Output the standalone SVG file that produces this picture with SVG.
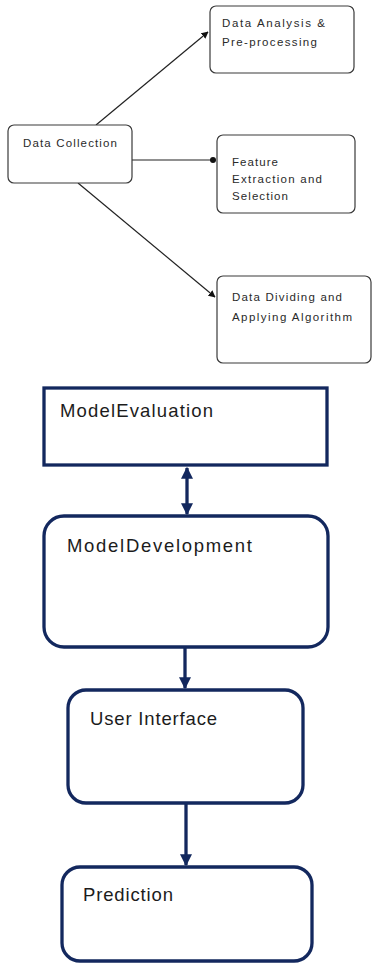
<svg xmlns="http://www.w3.org/2000/svg" width="372" height="965" viewBox="0 0 372 965">
<style>
.tb{fill:#fff;stroke:#3a3a3a;stroke-width:1.2}
.tt{font-family:"Liberation Sans",Arial,sans-serif;font-size:11.5px;fill:#2a2a2a}
.nb{fill:#fff;stroke:#13285e;stroke-width:3.3}
.nt{font-family:"Liberation Sans",Arial,sans-serif;font-size:18.5px;fill:#1c1c1c}
.tl{stroke:#222;stroke-width:1.2;fill:none}
.nl{stroke:#13285e;stroke-width:3.3;fill:none}
</style>
<defs>
<marker id="ah" viewBox="0 0 10 10" refX="9" refY="5" markerWidth="7" markerHeight="7" orient="auto" markerUnits="userSpaceOnUse"><path d="M0,0 L10,5 L0,10 z" fill="#111"/></marker>
<marker id="dot" viewBox="0 0 10 10" refX="5" refY="5" markerWidth="6" markerHeight="6" markerUnits="userSpaceOnUse"><circle cx="5" cy="5" r="5" fill="#111"/></marker>
<marker id="nh" viewBox="0 0 10 10" refX="9" refY="5" markerWidth="12" markerHeight="12" orient="auto-start-reverse" markerUnits="userSpaceOnUse"><path d="M0,0 L10,5 L0,10 z" fill="#13285e"/></marker>
</defs>
<g id="connectors">
<line class="tl" x1="96" y1="125" x2="208" y2="32" marker-end="url(#ah)"/>
<line class="tl" x1="132" y1="160" x2="213" y2="160" marker-end="url(#dot)"/>
<line class="tl" x1="78" y1="183" x2="215" y2="297" marker-end="url(#ah)"/>
<line class="nl" x1="187" y1="468" x2="187" y2="514" marker-start="url(#nh)" marker-end="url(#nh)"/>
<line class="nl" x1="185" y1="648" x2="185" y2="688" marker-end="url(#nh)"/>
<line class="nl" x1="186" y1="804" x2="186" y2="865" marker-end="url(#nh)"/>
</g>
<g id="data-collection">
<rect class="tb" x="8" y="125" width="124" height="58" rx="6"/>
<text class="tt" x="23" y="147" textLength="94">Data Collection</text>
</g>
<g id="data-analysis">
<rect class="tb" x="210" y="6" width="144" height="67" rx="6"/>
<text class="tt" x="222" y="27" textLength="103">Data Analysis &amp;</text>
<text class="tt" x="222" y="46" textLength="95">Pre-processing</text>
</g>
<g id="feature-extraction">
<rect class="tb" x="217" y="135" width="138" height="78" rx="6"/>
<text class="tt" x="232" y="166" textLength="46">Feature</text>
<text class="tt" x="232" y="183" textLength="90">Extraction and</text>
<text class="tt" x="232" y="200" textLength="56">Selection</text>
</g>
<g id="data-dividing">
<rect class="tb" x="217" y="276" width="154" height="87" rx="6"/>
<text class="tt" x="232" y="301" textLength="110">Data Dividing and</text>
<text class="tt" x="232" y="321" textLength="120">Applying Algorithm</text>
</g>
<g id="model-evaluation">
<rect class="nb" x="44" y="388" width="283" height="77"/>
<text class="nt" x="60" y="417" textLength="153">ModelEvaluation</text>
</g>
<g id="model-development">
<rect class="nb" x="44" y="516" width="284" height="131" rx="20"/>
<text class="nt" x="67" y="552" textLength="185">ModelDevelopment</text>
</g>
<g id="user-interface">
<rect class="nb" x="68" y="690" width="235" height="113" rx="18"/>
<text class="nt" x="90" y="725" textLength="127">User Interface</text>
</g>
<g id="prediction">
<rect class="nb" x="62" y="867" width="250" height="94" rx="18"/>
<text class="nt" x="83" y="901" textLength="90">Prediction</text>
</g>
</svg>
